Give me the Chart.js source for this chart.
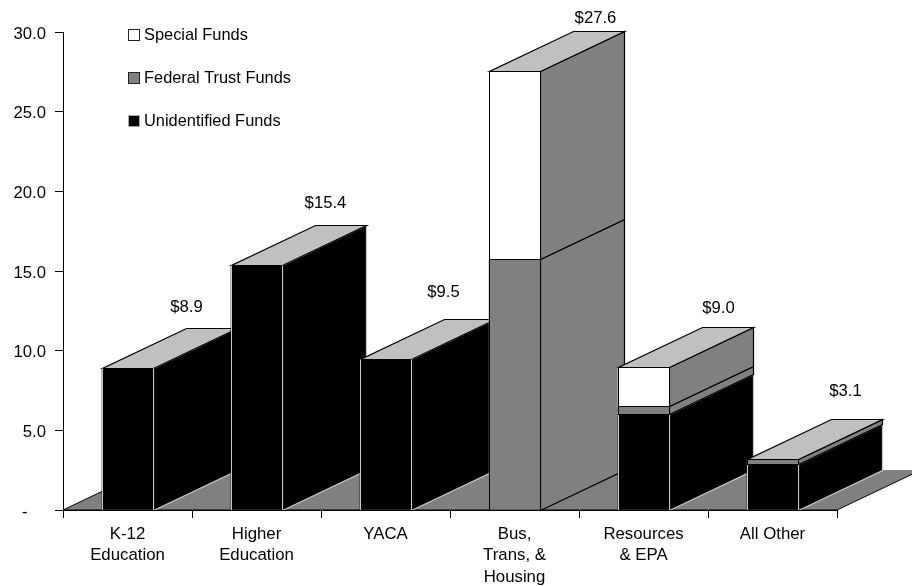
<!DOCTYPE html>
<html lang="en">
<head>
    <meta charset="UTF-8">
    <title>Funds by Program Area</title>
    <script src="https://cdn.jsdelivr.net/npm/chart.js"></script>
    <style>
        body { margin: 0; background: #fff; }
        canvas { display: block; }
    </style>
</head>
<body>
    <canvas id="myChart" width="912" height="586"></canvas>
    <script>
        var categories = [['K-12', 'Education'], ['Higher', 'Education'], ['YACA'], ['Bus,', 'Trans, &', 'Housing'], ['Resources', '& EPA'], ['All Other']];
        var unidentifiedFunds = [8.85, 15.35, 9.45, 0, 6.0, 2.85];
        var federalTrustFunds = [0, 0, 0, 15.7, 0.47, 0.33];
        var specialFunds = [0, 0, 0, 11.85, 2.5, 0.02];
        var totals = [8.9, 15.4, 9.5, 27.6, 9.0, 3.1];

        var FAMILY = '"Liberation Sans", Arial, sans-serif';
        var DEPTH_X = 84, DEPTH_Y = 40;
        // the total labels were placed by hand in the original, offset from the top of each bar
        var labelNudgeX = [59, 69, 58, 81, 75, 73];
        var labelNudgeY = [61, 61, 66, 52, 58, 69];

        function snap(v) { return Math.round(v - 0.5) + 0.5; }

        function path(ctx, pts, close) {
            ctx.beginPath();
            pts.forEach(function(p, i) {
                if (i === 0) ctx.moveTo(p[0], p[1]); else ctx.lineTo(p[0], p[1]);
            });
            if (close) ctx.closePath();
        }

        function poly(ctx, pts, fill, stroke) {
            path(ctx, pts, true);
            ctx.fillStyle = fill;
            ctx.fill();
            ctx.lineWidth = 1.2;
            ctx.strokeStyle = stroke;
            ctx.stroke();
        }

        // calls fn once for every visible stack segment, bottom up
        function eachSegment(chart, fn) {
            var yScale = chart.scales.y, xScale = chart.scales.x;
            categories.forEach(function(c, j) {
                var w = chart.getDatasetMeta(0).data[j].width;
                var left = snap(xScale.getPixelForValue(j) - w / 2 + 0.5);
                var right = snap(xScale.getPixelForValue(j) + w / 2);
                var sum = 0;
                chart.data.datasets.forEach(function(ds) {
                    var v = ds.data[j];
                    if (!v) return;
                    var y0 = snap(yScale.getPixelForValue(sum));
                    sum += v;
                    var y1 = snap(yScale.getPixelForValue(sum));
                    fn(ds, left, right, y0, y1, j);
                });
                fn(null, left, right, snap(yScale.getPixelForValue(sum)), 0, j);
            });
        }

        var depthPlugin = {
            id: 'depth',
            beforeDatasetsDraw: function(chart) {
                var ctx = chart.ctx, area = chart.chartArea;
                ctx.save();
                // floor, the back edge has no outline
                var floor = [[area.left + DEPTH_X, area.bottom - DEPTH_Y], [area.left, area.bottom], [area.right, area.bottom], [area.right + DEPTH_X, area.bottom - DEPTH_Y]];
                path(ctx, floor, true);
                ctx.fillStyle = '#808080';
                ctx.fill();
                path(ctx, floor, false);
                ctx.strokeStyle = '#000';
                ctx.lineWidth = 1;
                ctx.stroke();
                eachSegment(chart, function(ds, left, right, y0, y1) {
                    if (ds) {
                        poly(ctx, [[right, y0], [right + DEPTH_X, y0 - DEPTH_Y], [right + DEPTH_X, y1 - DEPTH_Y], [right, y1]], ds.sideColor, ds.edgeColor);
                    } else {
                        poly(ctx, [[left, y0], [right, y0], [right + DEPTH_X, y0 - DEPTH_Y], [left + DEPTH_X, y0 - DEPTH_Y]], '#c0c0c0', '#000');
                    }
                });
                ctx.restore();
            },
            afterDatasetsDraw: function(chart) {
                var ctx = chart.ctx, yScale = chart.scales.y, xScale = chart.scales.x;
                ctx.save();
                // front outlines
                ctx.lineWidth = 1;
                eachSegment(chart, function(ds, left, right, y0, y1) {
                    if (!ds) return;
                    ctx.strokeStyle = ds.edgeColor;
                    if (ds.edgeColor === '#000') {
                        ctx.strokeRect(left, y1, right - left, y0 - y1);
                    } else {
                        path(ctx, [[left, y1], [left, y0]], false);
                        ctx.stroke();
                        path(ctx, [[right, y1], [right, y0]], false);
                        ctx.stroke();
                    }
                });
                ctx.font = '16.7px ' + FAMILY;
                ctx.fillStyle = '#000';
                ctx.textAlign = 'center';
                ctx.textBaseline = 'middle';
                totals.forEach(function(t, j) {
                    var x = xScale.getPixelForValue(j) + labelNudgeX[j];
                    var y = yScale.getPixelForValue(t) - labelNudgeY[j];
                    ctx.fillText('$' + t.toFixed(1), x, y);
                });
                // legend, top of the stack first
                ctx.font = '16.4px ' + FAMILY;
                ctx.textAlign = 'left';
                chart.data.datasets.slice().reverse().forEach(function(ds, i) {
                    var y = 34 + i * 43;
                    ctx.fillStyle = ds.backgroundColor;
                    ctx.fillRect(128.5, y - 4.5, 11, 11);
                    ctx.strokeStyle = ds.legendEdge;
                    ctx.lineWidth = 1;
                    ctx.strokeRect(128.5, y - 4.5, 11, 11);
                    ctx.fillStyle = '#000';
                    ctx.fillText(ds.label, 144, y + 1);
                });
                ctx.restore();
            }
        };

        var myChart = new Chart(document.getElementById('myChart').getContext('2d'), {
            type: 'bar',
            plugins: [depthPlugin],
            data: {
                labels: categories,
                datasets: [
                    { label: 'Unidentified Funds', data: unidentifiedFunds, backgroundColor: '#000', sideColor: '#000', edgeColor: '#c8c8c8', legendEdge: '#aaa' },
                    { label: 'Federal Trust Funds', data: federalTrustFunds, backgroundColor: '#808080', sideColor: '#808080', edgeColor: '#000', legendEdge: '#222' },
                    { label: 'Special Funds', data: specialFunds, backgroundColor: '#fff', sideColor: '#808080', edgeColor: '#000', legendEdge: '#222' }
                ]
            },
            options: {
                responsive: false,
                animation: false,
                layout: { padding: { left: 0, right: 75, top: 32, bottom: 0 } },
                plugins: { legend: { display: false }, tooltip: { enabled: false } },
                datasets: { bar: { barPercentage: 0.4, categoryPercentage: 1, borderWidth: 0, inflateAmount: 0 } },
                scales: {
                    x: {
                        stacked: true,
                        grid: { offset: true, drawOnChartArea: false, drawTicks: true, tickLength: 8, color: '#000' },
                        border: { color: '#000', z: 1 },
                        ticks: { color: '#000', font: { family: FAMILY, size: 16.8, lineHeight: 1.3 }, maxRotation: 0, autoSkip: false, padding: 5 },
                        afterFit: function(scale) { scale.height = 76; }
                    },
                    y: {
                        stacked: true,
                        min: 0,
                        max: 30,
                        grid: { drawOnChartArea: false, drawTicks: true, tickLength: 8, color: '#000' },
                        border: { color: '#000', z: 1 },
                        ticks: {
                            stepSize: 5,
                            color: '#000',
                            padding: 9,
                            // the empty first line pushes the label down a touch, like the original
                            font: { family: FAMILY, size: 16.7, lineHeight: 0.24 },
                            callback: function(v) { return ['', v === 0 ? '-    ' : v.toFixed(1)]; }
                        },
                        afterFit: function(scale) { scale.width = 63; }
                    }
                }
            }
        });
    </script>
</body>
</html>
